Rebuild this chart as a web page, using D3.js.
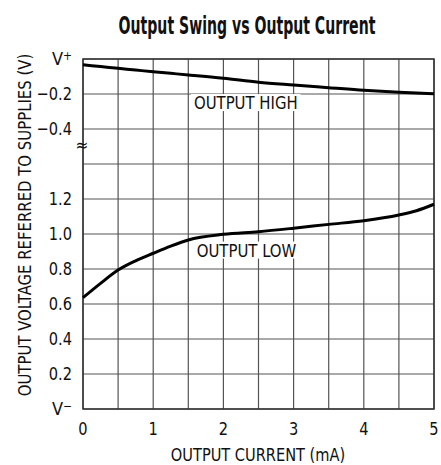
<!DOCTYPE html>
<html>
<head>
<meta charset="utf-8">
<script src="https://cdn.jsdelivr.net/npm/d3@7"></script>
<style>
  body { margin: 0; background: #fff; }
  text { font-family: "DejaVu Sans Condensed", "DejaVu Sans", sans-serif; font-stretch: condensed; fill: #111; }
</style>
</head>
<body>
<div id="chart"></div>
<script>
// current values (mA)
var current = [0, 0.25, 0.5, 0.75, 1.0, 1.25, 1.5, 2.0, 2.5, 3.0, 3.5, 4.0, 4.5, 4.75, 5.0];
// output high, referred to V+ (V)
var outHigh = [-0.033, -0.043, -0.053, -0.063, -0.073, -0.082, -0.091, -0.110, -0.133, -0.149, -0.164, -0.179, -0.190, -0.194, -0.198];
// output low, referred to V- (V)
var outLow = [0.636, 0.718, 0.794, 0.847, 0.89, 0.931, 0.966, 0.998, 1.013, 1.033, 1.055, 1.076, 1.109, 1.133, 1.17];

var xTicks = [0, 1, 2, 3, 4, 5];
// y positions in grid units (0 = V-, 2 = V+), with the labels shown
var yTicks = [
  {v: 0, label: "V", sup: "\u2212"},
  {v: 0.2, label: "0.2"},
  {v: 0.4, label: "0.4"},
  {v: 0.6, label: "0.6"},
  {v: 0.8, label: "0.8"},
  {v: 1.0, label: "1.0"},
  {v: 1.2, label: "1.2"},
  {v: 1.6, label: "\u22120.4"},
  {v: 1.8, label: "\u22120.2"},
  {v: 2.0, label: "V", sup: "+"}
];
var highOffset = 2.0; // upper section is drawn relative to V+

var margin = {top: 59, right: 7, bottom: 56, left: 83},
    width = 441 - margin.left - margin.right,
    height = 465 - margin.top - margin.bottom;

var x = d3.scaleLinear().domain([0, 5]).range([0, width]);
var y = d3.scaleLinear().domain([0, 2]).range([height, 0]);

// narrow the glyphs a bit to get a condensed look
function squeeze(sel, k) {
  sel.each(function() {
    var w = this.getComputedTextLength();
    d3.select(this).attr("textLength", w * k).attr("lengthAdjust", "spacingAndGlyphs");
  });
}

var svg = d3.select("#chart").append("svg")
    .attr("width", 441)
    .attr("height", 465);

// title, scaled horizontally to the reference width
var title = svg.append("text")
    .attr("text-anchor", "middle")
    .style("font-size", "24px")
    .style("font-weight", "bold")
    .text("Output Swing vs Output Current");
var tw = title.node().getComputedTextLength();
title.attr("transform", "translate(247,34) scale(" + (257 / tw) + ",1)");

var g = svg.append("g")
    .attr("transform", "translate(" + margin.left + "," + margin.top + ")");

// grid
g.selectAll(".vgrid")
    .data(d3.range(0, 5.01, 0.5))
  .enter().append("line")
    .attr("x1", function(d) { return x(d); })
    .attr("x2", function(d) { return x(d); })
    .attr("y1", 0)
    .attr("y2", height)
    .attr("stroke", "#555")
    .attr("stroke-width", 1.2);

g.selectAll(".hgrid")
    .data(d3.range(0, 2.01, 0.2))
  .enter().append("line")
    .attr("x1", 0)
    .attr("x2", width)
    .attr("y1", function(d) { return y(d); })
    .attr("y2", function(d) { return y(d); })
    .attr("stroke", "#555")
    .attr("stroke-width", 1.2);

g.append("rect")
    .attr("width", width)
    .attr("height", height)
    .attr("fill", "none")
    .attr("stroke", "#333")
    .attr("stroke-width", 1.5);

// curve labels with white backing
function curveLabel(cx, cy, txt) {
  var t = g.append("text")
      .attr("x", cx)
      .attr("y", cy)
      .attr("dy", "0.35em")
      .style("font-size", "18px")
      .text(txt);
  squeeze(t, 0.92);
  var b = t.node().getBBox();
  g.insert("rect", function() { return t.node(); })
      .attr("x", b.x - 3)
      .attr("y", b.y + 2)
      .attr("width", b.width + 6)
      .attr("height", b.height - 4)
      .attr("fill", "#fff");
}
curveLabel(x(1.58), y(1.75), "OUTPUT HIGH");
curveLabel(x(1.62), y(0.907), "OUTPUT LOW");

var line = d3.line().curve(d3.curveMonotoneX);

g.append("path")
    .datum(current.map(function(c, i) { return [x(c), y(outHigh[i] + highOffset)]; }))
    .attr("d", line)
    .attr("fill", "none")
    .attr("stroke", "#000")
    .attr("stroke-width", 3);

g.append("path")
    .datum(current.map(function(c, i) { return [x(c), y(outLow[i])]; }))
    .attr("d", line)
    .attr("fill", "none")
    .attr("stroke", "#000")
    .attr("stroke-width", 3);

// x axis labels
g.selectAll(".xt")
    .data(xTicks)
  .enter().append("text")
    .attr("x", function(d) { return x(d); })
    .attr("y", height + 26)
    .attr("text-anchor", "middle")
    .style("font-size", "18px")
    .text(function(d) { return d; })
    .call(squeeze, 0.9);

// y axis labels
var yt = g.selectAll(".yt")
    .data(yTicks)
  .enter().append("text")
    .attr("x", -11)
    .attr("y", function(d) { return y(d.v); })
    .attr("dy", "0.35em")
    .attr("text-anchor", "end")
    .style("font-size", "18px");
yt.append("tspan").text(function(d) { return d.label; });
yt.filter(function(d) { return d.sup; }).append("tspan")
    .attr("dy", "-0.45em")
    .style("font-size", "12px")
    .text(function(d) { return d.sup; });
yt.filter(function(d) { return !d.sup; }).call(squeeze, 0.9);

// axis break mark
g.append("text")
    .attr("x", -1)
    .attr("y", (y(1.6) + y(1.4)) / 2 - 1)
    .attr("dy", "0.35em")
    .attr("text-anchor", "middle")
    .style("font-size", "17px")
    .text("\u2248");

svg.append("text")
    .attr("x", 258)
    .attr("y", 461)
    .attr("text-anchor", "middle")
    .style("font-size", "18px")
    .text("OUTPUT CURRENT (mA)")
    .call(squeeze, 0.9);

svg.append("text")
    .attr("transform", "translate(31,225) rotate(-90)")
    .attr("text-anchor", "middle")
    .style("font-size", "18px")
    .text("OUTPUT VOLTAGE REFERRED TO SUPPLIES (V)")
    .call(squeeze, 0.92);
</script>
</body>
</html>
